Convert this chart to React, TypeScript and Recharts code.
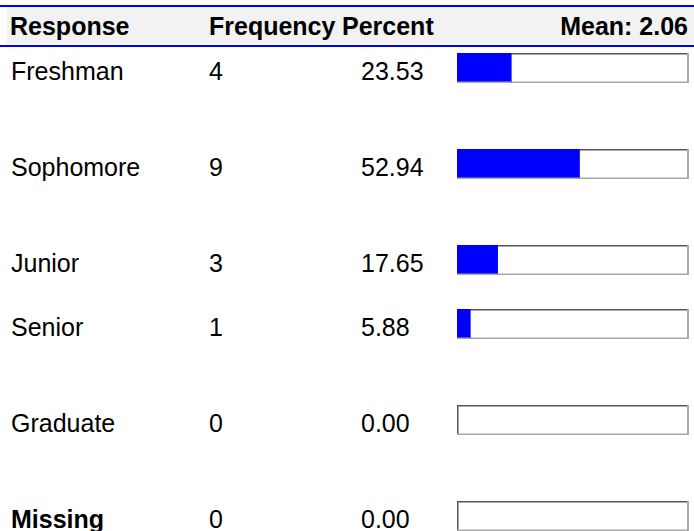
import React from 'react';
import { BarChart, Bar, XAxis, YAxis } from 'recharts';

// ---- data ----
const responses = ['Freshman', 'Sophomore', 'Junior', 'Senior', 'Graduate', 'Missing'];
const frequencies = [4, 9, 3, 1, 0, 0];
const percents = [23.53, 52.94, 17.65, 5.88, 0.0, 0.0];
const boldResponses = ['Missing'];
const headerLabels = ['Response', 'Frequency', 'Percent'];
const meanValue = 2.06;

// layout: empty lines before each response row
const blankLinesBefore = [0, 2, 2, 1, 2, 2];

type Row = { key: string; spacer: boolean; label?: string; freq?: number; pct?: number | null };

const chartRows: Row[] = [];
responses.forEach((r, i) => {
  for (let j = 0; j < blankLinesBefore[i]; j++) {
    chartRows.push({ key: `gap-${i}-${j}`, spacer: true, pct: null });
  }
  chartRows.push({ key: r, spacer: false, label: r, freq: frequencies[i], pct: percents[i] });
});
const rowByKey: Record<string, Row> = {};
chartRows.forEach((r) => (rowByKey[r.key] = r));

const FONT = '"Liberation Sans", Arial, Helvetica, sans-serif';
const BLUE = '#0000ff';

const RowTick = (props: any) => {
  const { y, payload } = props;
  const row = rowByKey[payload?.value];
  if (!row || row.spacer) return <g />;
  const weight = boldResponses.includes(row.label as string) ? 'bold' : 'normal';
  const common = { fontSize: 25, fontFamily: FONT, fill: '#000' };
  return (
    <g>
      <text x={11} y={y + 11.5} fontWeight={weight} {...common}>{row.label}</text>
      <text x={209} y={y + 11.5} {...common}>{row.freq}</text>
      <text x={361} y={y + 11.5} {...common}>{(row.pct ?? 0).toFixed(2)}</text>
    </g>
  );
};

const BoxBackground = (props: any) => {
  const { x, y, width, height, payload } = props;
  if (payload && payload.spacer) return <g />;
  return (
    <g>
      <rect x={x} y={y} width={width} height={height} fill="#ffffff" />
      <line x1={x} y1={y + 0.75} x2={x + width} y2={y + 0.75} stroke="#555555" strokeWidth={1.5} />
      <line x1={x + 0.75} y1={y} x2={x + 0.75} y2={y + height} stroke="#555555" strokeWidth={1.5} />
      <line x1={x + width - 1} y1={y} x2={x + width - 1} y2={y + height} stroke="#a8a8a8" strokeWidth={2} />
      <line x1={x} y1={y + height - 0.75} x2={x + width} y2={y + height - 0.75} stroke="#a8a8a8" strokeWidth={1.5} />
    </g>
  );
};

const BlueBar = (props: any) => {
  const { x, y, width, height } = props;
  if (!width || width <= 0) return <g />;
  return (
    <g>
      <rect x={x} y={y} width={width} height={height} fill={BLUE} />
      <line x1={x} y1={y + height - 0.75} x2={x + width} y2={y + height - 0.75} stroke="#a8a8a8" strokeWidth={1.5} />
    </g>
  );
};

export default function App() {
  return (
    <div style={{ position: 'absolute', left: 0, top: 0, width: 694, height: 531, overflow: 'hidden', background: '#fff' }}>
      <BarChart
        width={694}
        height={532}
        data={chartRows}
        layout="vertical"
        margin={{ top: 52, right: 5, bottom: 0, left: 0 }}
      >
        <XAxis type="number" domain={[0, 100]} hide />
        <YAxis
          type="category"
          dataKey="key"
          width={457}
          axisLine={false}
          tickLine={false}
          interval={0}
          tick={RowTick}
        />
        <Bar
          dataKey="pct"
          barSize={30}
          background={BoxBackground}
          shape={BlueBar}
          isAnimationActive={false}
        />
      </BarChart>
      <svg width={694} height={50} style={{ position: 'absolute', left: 0, top: 0 }}>
        <rect x={0} y={5} width={694} height={2} fill={BLUE} />
        <rect x={7} y={7} width={687} height={37} fill="#f2f2f2" />
        <rect x={0} y={45} width={694} height={2} fill={BLUE} />
        <g fontSize={25} fontWeight="bold" fontFamily={FONT} fill="#000">
          <text x={10} y={35}>{headerLabels[0]}</text>
          <text x={209} y={35}>{headerLabels[1]}</text>
          <text x={342} y={35}>{headerLabels[2]}</text>
          <text x={688} y={35} textAnchor="end">{`Mean: ${meanValue.toFixed(2)}`}</text>
        </g>
      </svg>
    </div>
  );
}
